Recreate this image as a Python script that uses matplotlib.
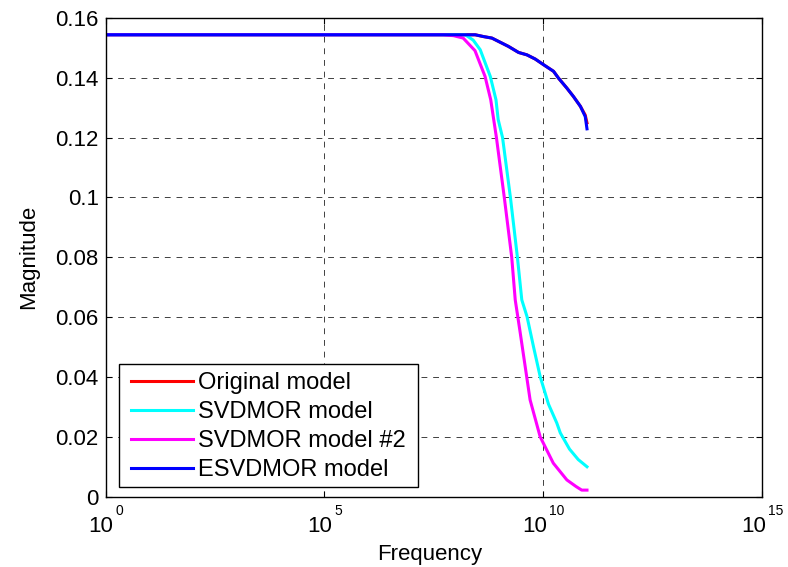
import matplotlib
matplotlib.use("Agg")
import matplotlib.pyplot as plt
from matplotlib.patches import Rectangle
import numpy as np

plt.rcParams['font.family'] = ['Liberation Sans', 'DejaVu Sans']

# log10(frequency) exponents and magnitudes
orig_exp = [0, 8.445, 8.635, 8.826, 9.017, 9.207, 9.436, 9.627, 9.817, 10.008,
            10.236, 10.35, 10.54, 10.69, 10.85, 10.96, 11.0]
orig_mag = [0.1543, 0.1543, 0.1537, 0.1532, 0.1518, 0.1504, 0.1484, 0.1476, 0.1462, 0.1443,
            0.1421, 0.1398, 0.1365, 0.1337, 0.1304, 0.1275, 0.1249]

svd_exp = [0, 8.22, 8.40, 8.56, 8.79, 8.92, 8.97, 9.07, 9.25, 9.41, 9.51, 9.63,
           9.78, 9.93, 10.12, 10.31, 10.39, 10.6, 10.8, 11.0]
svd_mag = [0.1543, 0.1543, 0.1525, 0.1493, 0.1404, 0.1326, 0.126, 0.12, 0.10, 0.08, 0.0658, 0.0602,
           0.050, 0.0402, 0.031, 0.0247, 0.0214, 0.016, 0.0125, 0.0101]

svd2_exp = [0, 7.71, 7.95, 8.17, 8.44, 8.67, 8.80, 8.93, 9.11, 9.28, 9.36, 9.47,
            9.70, 9.93, 10.23, 10.54, 10.75, 10.88, 11.0]
svd2_mag = [0.1543, 0.1543, 0.1540, 0.1532, 0.149, 0.1404, 0.1326, 0.12, 0.10, 0.08, 0.0658, 0.0552,
            0.0324, 0.0201, 0.0113, 0.0057, 0.0035, 0.0023, 0.0023]

esvd_exp = [0, 8.445, 8.635, 8.826, 9.017, 9.207, 9.436, 9.627, 9.817, 10.008,
            10.236, 10.35, 10.54, 10.69, 10.85, 10.96, 11.0]
esvd_mag = [0.1543, 0.1543, 0.1537, 0.1532, 0.1518, 0.1504, 0.1484, 0.1476, 0.1462, 0.1443,
            0.1421, 0.1398, 0.1365, 0.1337, 0.1304, 0.127, 0.1229]

labels = ['Original model', 'SVDMOR model', 'SVDMOR model #2', 'ESVDMOR model']
colors = ['#ff0000', '#00ffff', '#ff00ff', '#0000ff']

x_ticks_exp = [0, 5, 10, 15]
y_ticks = [0, 0.02, 0.04, 0.06, 0.08, 0.1, 0.12, 0.14, 0.16]
y_tick_labels = ['0', '0.02', '0.04', '0.06', '0.08', '0.1', '0.12', '0.14', '0.16']

FS = 16
fig = plt.figure(figsize=(7.88, 5.67), dpi=100)
ax = fig.add_axes([105.7/788, 70/567, (762-105.7)/788, (497-17.7)/567])

series = [(orig_exp, orig_mag), (svd_exp, svd_mag), (svd2_exp, svd2_mag), (esvd_exp, esvd_mag)]
for (e, m), lab, c in zip(series, labels, colors):
    ax.plot(10.0**np.array(e), m, color=c, lw=2.2, label=lab)

ax.set_xscale('log')
ax.set_xlim(1, 1e15)
ax.set_ylim(0, 0.16)
ax.set_xticks([10.0**k for k in x_ticks_exp])
ax.set_xticklabels([])
ax.xaxis.set_minor_locator(matplotlib.ticker.NullLocator())
ax.set_yticks(y_ticks)
ax.set_yticklabels(y_tick_labels)
ax.tick_params(axis='both', which='major', direction='in', length=4.5, width=0.8,
               top=True, right=True, labelsize=FS, pad=5)
ax.grid(True, which='major', color='black', linestyle=(0, (6, 6)), linewidth=0.7, alpha=0.75)
for s in ax.spines.values():
    s.set_linewidth(1.0)

# MATLAB-style power-of-ten tick labels: base "10" with a raised small exponent
renderer = fig.canvas.get_renderer()
EXP_FS = 10
gap = 2
for k in x_ticks_exp:
    tb = ax.annotate('10', xy=(10.0**k, 0), xycoords=('data', 'axes fraction'),
                     xytext=(0, -35), textcoords='offset pixels', fontsize=FS,
                     ha='left', va='baseline', annotation_clip=False)
    te = ax.annotate(str(k), xy=(10.0**k, 0), xycoords=('data', 'axes fraction'),
                     xytext=(0, -18), textcoords='offset pixels', fontsize=EXP_FS,
                     ha='left', va='baseline', annotation_clip=False)
    wb = tb.get_window_extent(renderer).width
    we = te.get_window_extent(renderer).width
    W = wb + gap + we
    tb.xyann = (-W/2, -35)
    te.xyann = (-W/2 + wb + gap, -18)

ax.set_xlabel('Frequency', fontsize=FS)
ax.xaxis.set_label_coords(0.494, -0.098)
ax.set_ylabel('Magnitude', fontsize=FS)
ax.yaxis.set_label_coords(-0.101, 0.5)

# legend frame (MATLAB style box) and entries
ax.add_patch(Rectangle((0.0207, 0.0215), 0.4551, 0.2560, transform=ax.transAxes,
                       facecolor='white', edgecolor='black', linewidth=1.0, zorder=5))
leg = ax.legend(loc='upper left', fontsize=17, frameon=False, borderpad=0.0,
                labelspacing=0.30, handlelength=2.65, handletextpad=0.2,
                borderaxespad=0.0, bbox_to_anchor=(0.0381, 0.2608))
leg.set_zorder(6)
for h in leg.get_lines():
    h.set_linewidth(2.2)

fig.savefig('out.png', dpi=100)
